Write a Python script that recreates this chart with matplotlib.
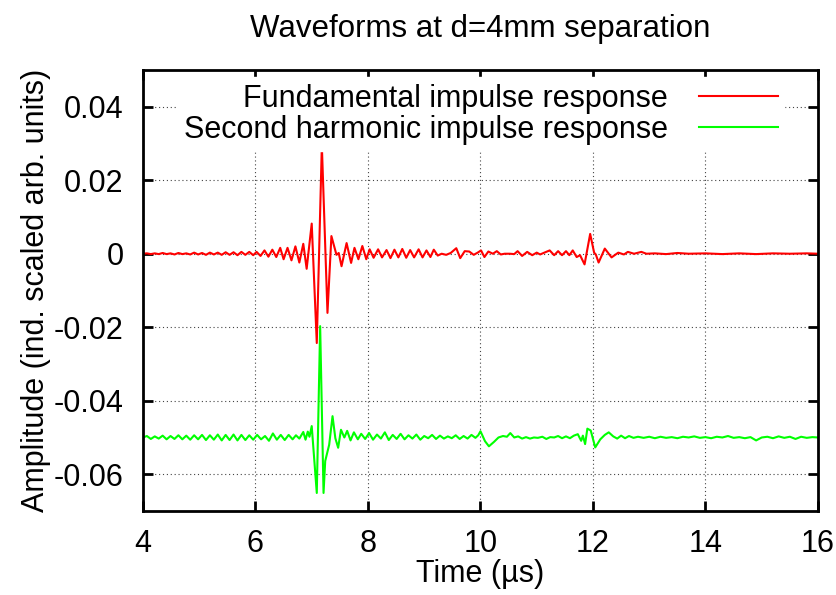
import matplotlib
matplotlib.use("Agg")
from matplotlib import pyplot as plt
import numpy as np

# values, amplitudes in units of 1e-3
fund_t = [4.00, 4.07, 4.14, 4.21, 4.28, 4.35, 4.42, 4.49, 4.56, 4.63, 4.70, 4.77, 4.84, 4.91, 4.98,
          5.05, 5.12, 5.19, 5.26, 5.33, 5.40, 5.47, 5.54, 5.61, 5.68, 5.75, 5.82, 5.89, 5.96,
          6.02, 6.09, 6.16, 6.23, 6.30, 6.37, 6.44, 6.50, 6.57, 6.64, 6.71, 6.78, 6.85, 6.91,
          7.00, 7.09, 7.18, 7.28, 7.35, 7.44, 7.48, 7.53, 7.62, 7.70, 7.76, 7.83, 7.90, 7.97,
          8.03, 8.10, 8.18, 8.25, 8.33, 8.40, 8.47, 8.54, 8.61, 8.68, 8.75, 8.82, 8.90, 8.97,
          9.04, 9.11, 9.17, 9.24, 9.31, 9.39, 9.47, 9.57, 9.64, 9.72, 9.80, 9.88, 9.95,
          10.01, 10.07, 10.14, 10.22, 10.29, 10.36, 10.43, 10.52, 10.60, 10.66, 10.74, 10.83, 10.92,
          11.00, 11.06, 11.12, 11.23, 11.31, 11.38, 11.45, 11.52, 11.58, 11.64, 11.71, 11.77, 11.85, 11.95,
          12.02, 12.05, 12.10, 12.21, 12.33, 12.45, 12.55, 12.62, 12.73, 12.86, 12.95,
          13.10, 13.30, 13.50, 13.70, 14.00, 14.30, 14.60, 14.90, 15.20, 15.50, 15.80, 16.00]
fund_v = [0.0, 0.1, -0.1, 0.1, -0.1, 0.2, -0.1, 0.1, -0.2, 0.2, -0.1, 0.1, -0.2, 0.3, -0.2,
          0.2, -0.3, 0.3, -0.2, 0.3, -0.3, 0.4, -0.3, 0.4, -0.4, 0.5, -0.3, 0.5, -0.4,
          0.5, -0.6, 0.9, -0.8, 1.1, -0.9, 1.6, -1.5, 1.6, -1.8, 2.0, -2.4, 2.7, -4.1,
          8.2, -24.3, 29.5, -16.1, 4.8, -0.3, 0.2, -3.4, 2.9, -2.5, 1.6, -1.5, 2.1, -1.5,
          1.2, -1.1, 1.2, -1.0, 1.0, -1.2, 1.1, -1.0, 1.3, -1.1, 1.0, -1.0, 1.2, -1.0,
          0.9, -0.9, 1.1, -0.5, 0.0, -0.3, 0.2, 1.5, -1.2, 0.7, 0.6, -0.3, 0.3,
          0.9, -0.9, 0.6, 0.0, 0.7, -0.2, 0.0, 0.0, -0.1, 0.7, -0.6, 0.5, -0.4,
          0.3, -0.2, 0.2, 0.9, -0.4, 0.7, -0.4, 0.7, -0.4, 0.9, -0.9, -0.4, -2.9, 5.4,
          0.3, -0.2, -2.4, 1.4, -1.0, 0.3, -0.2, 0.5, 0.0, 0.5, 0.0,
          0.1, -0.1, 0.2, 0.0, 0.1, -0.1, 0.1, -0.1, 0.1, 0.0, 0.1, 0.0]

harm_t = [4.00, 4.07, 4.14, 4.21, 4.28, 4.35, 4.42, 4.49, 4.56, 4.63, 4.70, 4.77, 4.84, 4.91, 4.98,
          5.05, 5.12, 5.19, 5.26, 5.33, 5.40, 5.47, 5.54, 5.61, 5.68, 5.75, 5.82, 5.89, 5.96,
          6.03, 6.10, 6.17, 6.24, 6.31, 6.38, 6.45, 6.52, 6.59, 6.66, 6.72, 6.78, 6.85, 6.89, 6.93, 6.96,
          7.00, 7.09, 7.15, 7.21, 7.24, 7.31, 7.37, 7.42, 7.47, 7.52, 7.58, 7.63, 7.69, 7.75, 7.82, 7.88, 7.95,
          8.02, 8.09, 8.16, 8.23, 8.30, 8.37, 8.44, 8.51, 8.58, 8.65, 8.72, 8.79, 8.86, 8.93,
          9.00, 9.07, 9.14, 9.21, 9.28, 9.35, 9.42, 9.49, 9.56, 9.63, 9.70, 9.77, 9.84, 9.91, 9.96,
          10.00, 10.08, 10.15, 10.24, 10.32, 10.40, 10.47, 10.53, 10.60, 10.67, 10.74, 10.81, 10.88, 10.95,
          11.02, 11.10, 11.17, 11.24, 11.31, 11.38, 11.45, 11.52, 11.59, 11.66, 11.73, 11.79, 11.82, 11.86, 11.90, 11.96,
          12.04, 12.13, 12.21, 12.28, 12.36, 12.43, 12.50, 12.57, 12.64, 12.72, 12.80, 12.90,
          13.0, 13.1, 13.2, 13.3, 13.4, 13.5, 13.6, 13.7, 13.8, 13.9,
          14.0, 14.1, 14.2, 14.3, 14.4, 14.5, 14.6, 14.7, 14.8, 14.9,
          15.0, 15.1, 15.2, 15.3, 15.4, 15.5, 15.6, 15.7, 15.8, 15.9, 16.0]
harm_v = [-50.0, -49.6, -50.4, -49.7, -50.3, -49.5, -50.5, -49.6, -50.4, -49.4, -50.5, -49.5, -50.6, -49.4, -50.5,
          -49.3, -50.7, -49.4, -50.6, -49.2, -50.8, -49.3, -50.7, -49.2, -50.8, -49.3, -50.7, -49.4, -50.6,
          -49.3, -50.5, -49.6, -50.9, -48.9, -50.6, -49.3, -50.7, -49.3, -50.5, -49.4, -50.3, -48.5, -50.6, -48.4, -49.8,
          -46.9, -65.1, -19.7, -65.1, -56.4, -52.0, -44.2, -50.2, -52.8, -47.9, -50.0, -48.2, -50.8, -48.6, -50.5, -49.0, -50.4,
          -48.8, -50.6, -49.2, -50.3, -48.6, -50.7, -49.3, -50.4, -49.0, -50.5, -49.4, -50.3, -49.2, -50.6,
          -49.6, -50.2, -49.3, -50.4, -49.5, -50.3, -49.7, -50.2, -49.4, -50.4, -49.6, -50.3, -49.3, -50.1, -49.4,
          -48.3, -51.0, -52.4, -51.2, -50.0, -49.6, -49.8, -48.8, -50.0, -49.7, -50.3, -49.9, -50.3, -50.0,
          -50.1, -49.8, -50.4, -49.9, -50.0, -49.6, -50.2, -49.7, -50.2, -49.5, -49.1, -50.9, -49.5, -51.8, -47.6, -48.1,
          -52.7, -50.5, -49.3, -48.6, -49.7, -50.3, -49.5, -50.2, -49.6, -50.1, -49.8, -50.1,
          -49.8, -50.2, -49.8, -50.1, -49.9, -50.2, -49.8, -50.0, -49.7, -50.1,
          -49.9, -50.2, -49.8, -50.0, -49.6, -50.1, -49.9, -50.2, -49.9, -50.8,
          -50.0, -49.8, -50.2, -49.7, -50.1, -49.8, -50.4, -49.8, -50.1, -49.9, -50.0]

labels = ["Fundamental impulse response", "Second harmonic impulse response"]
xticks = [4, 6, 8, 10, 12, 14, 16]
yticks = [-0.06, -0.04, -0.02, 0, 0.02, 0.04]
yticklabels = ["-0.06", "-0.04", "-0.02", "0", "0.02", "0.04"]

plt.rcParams['font.family'] = ['Liberation Sans', 'DejaVu Sans']
plt.rcParams['font.size'] = 22

fig = plt.figure(figsize=(8.37, 5.95), dpi=100)
ax = fig.add_axes([0.1708, 0.1412, 0.8065, 0.7412])

ax.plot(fund_t, np.array(fund_v) * 1e-3, color="#ff0000", lw=1.5,
        solid_joinstyle="round", label=labels[0])
ax.plot(harm_t, np.array(harm_v) * 1e-3, color="#00ff00", lw=1.5,
        solid_joinstyle="round", label=labels[1])

ax.set_xlim(4, 16)
ax.set_ylim(-0.07, 0.05)
ax.set_xticks(xticks)
ax.set_yticks(yticks)
ax.set_yticklabels(yticklabels)
ax.tick_params(direction="in", length=7, width=2, top=True, right=True)
ax.tick_params(axis="y", pad=14)
ax.tick_params(axis="x", pad=13)
for s in ax.spines.values():
    s.set_linewidth(2)
ax.grid(True, color="#444444", linestyle=(0, (1, 2.5)), linewidth=0.8)

ax.set_title("Waveforms at d=4mm separation", pad=24, fontsize=22.5)
ax.set_xlabel("Time (µs)", labelpad=0)
ax.set_ylabel("Amplitude (ind. scaled arb. units)", labelpad=2)

ax.legend(loc="upper right", bbox_to_anchor=(0.95, 0.983), markerfirst=False,
          frameon=True, facecolor="white", edgecolor="white", framealpha=1, fancybox=False,
          handlelength=2.6, handletextpad=1.0, labelspacing=0.05, borderpad=0.2, borderaxespad=0)

fig.savefig("out.png", dpi=100)
